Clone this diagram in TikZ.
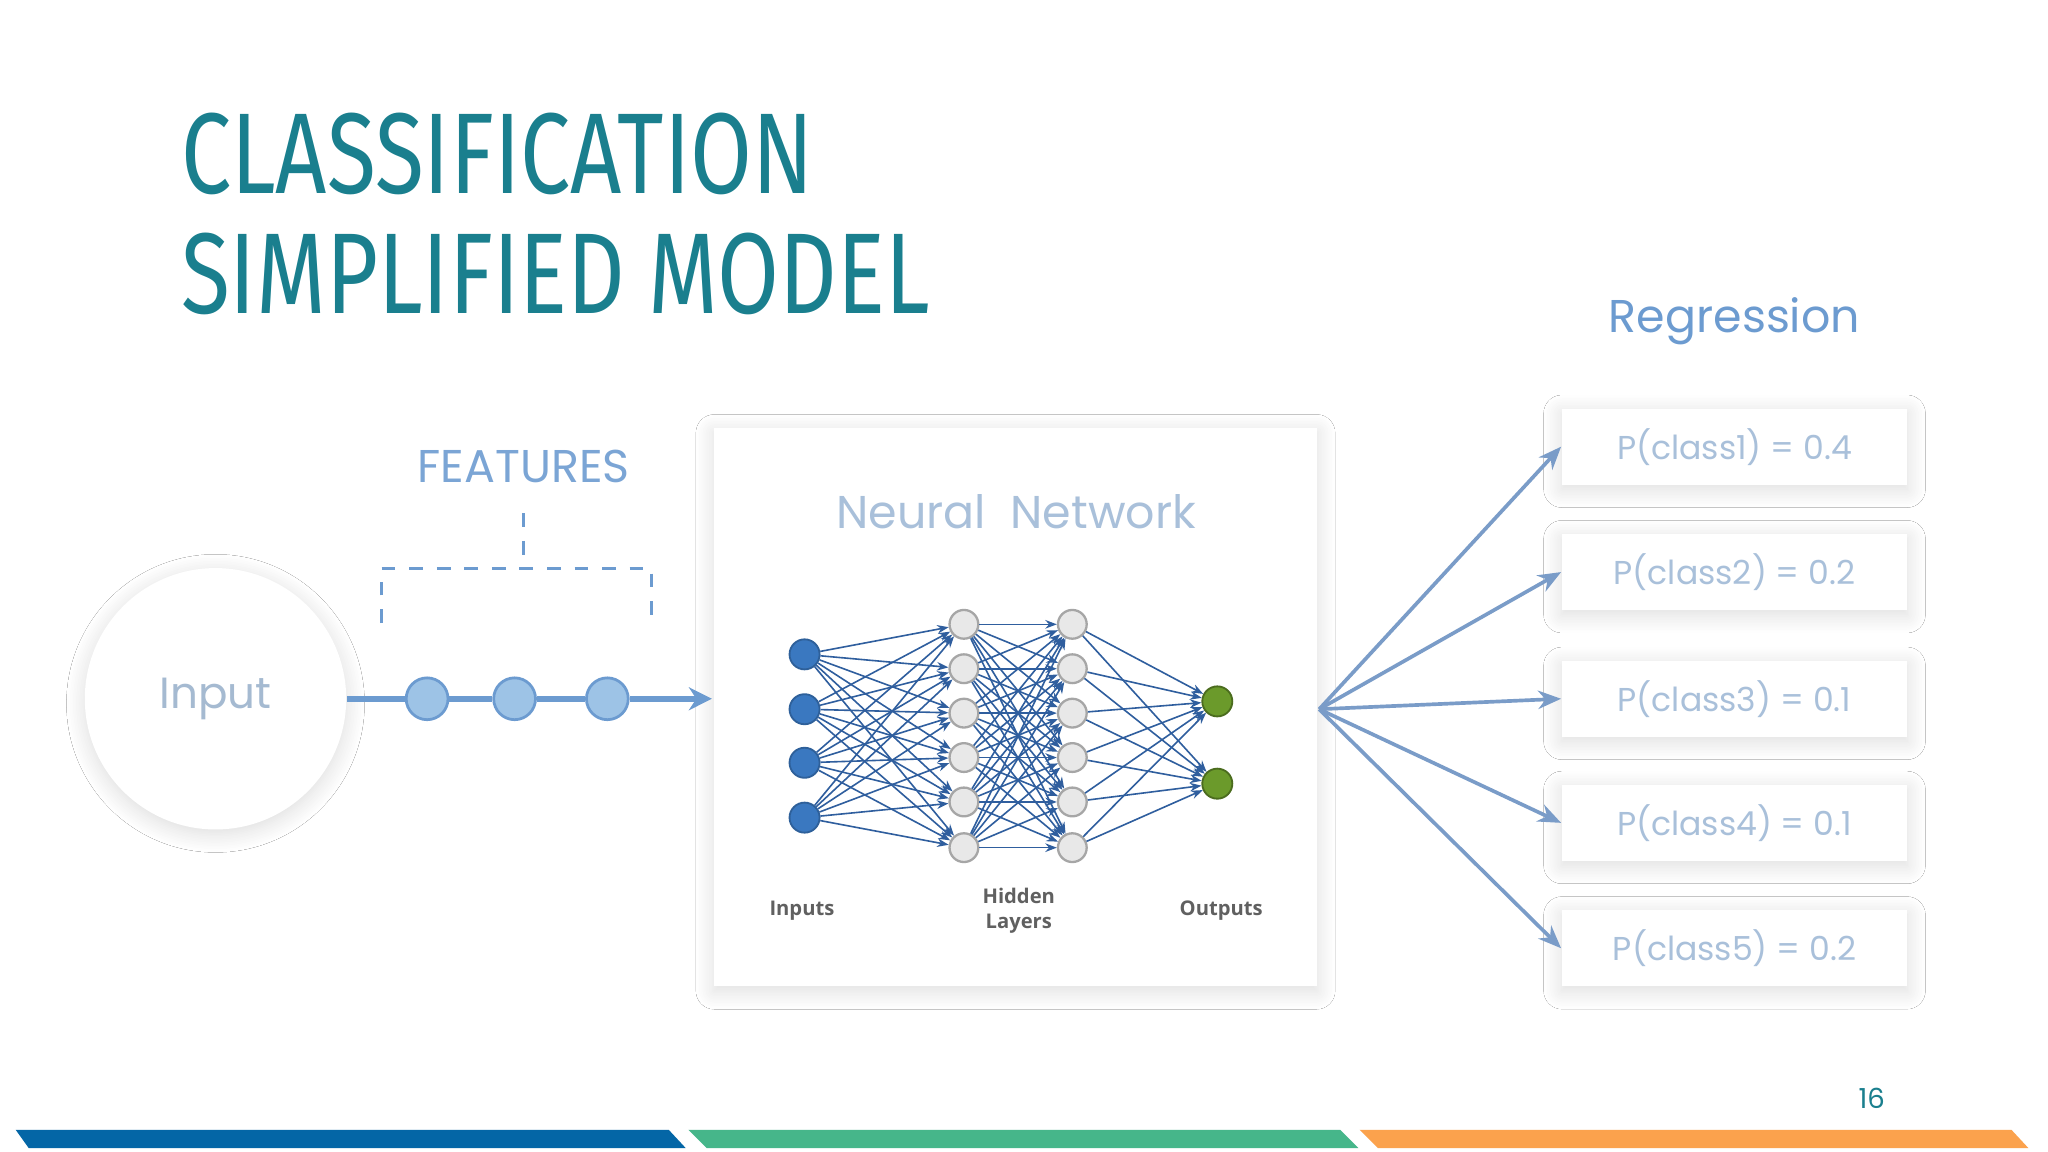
\documentclass[tikz,border=0pt]{standalone}
\usepackage{fontspec}
\setmainfont{Poppins}
\newfontfamily\titlefont[FakeStretch=0.78]{Fira Sans}
\newfontfamily\labfont{Open Sans}
\usetikzlibrary{shadows.blur,arrows.meta}
\definecolor{teal}{HTML}{1A7F8E}
\definecolor{lblue}{HTML}{6C9BD0}
\definecolor{fblue}{HTML}{9DC3E6}
\definecolor{txtb}{HTML}{A9C0DA}
\definecolor{arrb}{HTML}{7A9CC8}
\definecolor{nnedge}{HTML}{2F5E9E}
\definecolor{inb}{HTML}{3A78C0}
\definecolor{outg}{HTML}{6B9A2B}
\definecolor{barb}{HTML}{0466A6}
\definecolor{barg}{HTML}{46B68A}
\definecolor{baro}{HTML}{FBA24D}
\tikzset{
 sh/.style={blur shadow={shadow xshift=0pt,shadow yshift=-1pt,shadow blur steps=12,shadow blur radius=4pt,shadow opacity=14}},
 card/.style={draw=none,fill=white,sh,minimum width=2.64cm,minimum height=0.58cm,text=txtb,font=\fontsize{7.2}{9}\selectfont},
 feat/.style={circle,fill=fblue,draw=lblue,line width=0.6pt,minimum size=0.32cm,inner sep=0},
 inn/.style={circle,fill=inb,draw=inb!80!black,line width=0.4pt,minimum size=0.23cm,inner sep=0},
 hid/.style={circle,fill=gray!18,draw=gray!70,line width=0.5pt,minimum size=0.22cm,inner sep=0},
 outn/.style={circle,fill=outg,draw=outg!70!black,line width=0.4pt,minimum size=0.23cm,inner sep=0},
 nne/.style={draw=nnedge,line width=0.35pt,-{Stealth[length=2.5pt]}},
 bigarr/.style={draw=arrb,line width=0.8pt,-{Stealth[length=5pt,width=4pt]}},
 lab/.style={font=\labfont\bfseries\fontsize{4.4}{5.4}\selectfont,text=gray!75!black,align=center}
}
\begin{document}
\begin{tikzpicture}[x=0.01cm,y=-0.01cm]
\useasboundingbox (0,0) rectangle (1568,882);
\fill[white] (0,0) rectangle (1568,882);
% title
\node[anchor=base west,inner sep=0,text=teal,font=\titlefont\fontsize{25}{28}\selectfont] (t1) at (138,148) {CLASSIFICATION};
\node[anchor=base west,inner sep=0,text=teal,font=\titlefont\fontsize{25}{28}\selectfont] (t2) at (138,240) {SIMPLIFIED MODEL};
% input
\node[circle,fill=white,minimum size=2cm,sh,text=txtb!90!gray,font=\fontsize{9.5}{12}\selectfont] (inp) at (165,535) {Input};
\node[feat] (f1) at (327,535) {};
\node[feat] (f2) at (394,535) {};
\node[feat] (f3) at (465,535) {};
% NN box
\node[fill=white,sh,minimum width=4.61cm,minimum height=4.27cm] (nn) at (777.5,541.5) {};
\coordinate (nnl) at (545,535);
\draw[lblue,line width=1.2pt] (inp) -- (f1) (f1) -- (f2) (f2) -- (f3);
\draw[lblue,line width=1.2pt,-{Stealth[length=5pt,width=5pt]}] (f3) -- (nnl);
% features
\node[text=lblue!90!white,font=\fontsize{10}{12}\selectfont] (feats) at (401,357) {FEATURES};
\coordinate (b0) at (401,393); \coordinate (b1) at (401,435);
\coordinate (bl) at (292,435); \coordinate (br) at (499,435);
\coordinate (bld) at (292,477); \coordinate (brd) at (499,477);
\draw[lblue,dashed,line width=0.6pt] (b0) -- (b1) (bld) -- (bl) -- (br) -- (brd);
\node[text=txtb,font=\fontsize{10}{12}\selectfont] (nnt) at (778,392) {Neural\ \ Network};
% network
\foreach \i/\y in {1/501,2/543,3/584,4/626} \node[inn] (i\i) at (616,\y) {};
\foreach \i/\y in {1/478,2/512,3/546,4/580,5/614,6/649} {\node[hid] (h\i) at (738,\y) {}; \node[hid] (k\i) at (821,\y) {};}
\node[outn] (o1) at (932,537) {};
\node[outn] (o2) at (932,600) {};
\foreach \a in {1,...,4} \foreach \b in {1,...,6} \draw[nne] (i\a) -- (h\b);
\foreach \a in {1,...,6} \foreach \b in {1,...,6} \draw[nne] (h\a) -- (k\b);
\foreach \a in {1,...,6} \foreach \b in {1,2} \draw[nne] (k\a) -- (o\b);
\node[lab] (li) at (614,697) {Inputs};
\node[lab] (lh) at (780,697) {Hidden\\Layers};
\node[lab] (lo) at (935,697) {Outputs};
% outputs
\node[text=lblue,font=\fontsize{10}{12}\selectfont] (reg) at (1328,246) {Regression};
\node[card] (c1) at (1328,342) {P(class1) = 0.4};
\node[card] (c2) at (1328,438) {P(class2) = 0.2};
\node[card] (c3) at (1328,535) {P(class3) = 0.1};
\node[card] (c4) at (1328,630) {P(class4) = 0.1};
\node[card] (c5) at (1328,726) {P(class5) = 0.2};
\coordinate (src) at (1010,543);
\foreach \c in {1,...,5} \draw[bigarr] (src) -- (c\c.west);
% footer
\node[text=teal,font=\fontsize{6}{7}\selectfont] (pg) at (1433,841) {16};
\fill[barb] (12,865) -- (512,865) -- (525,879) -- (22,879) -- cycle;
\fill[barg] (527,865) -- (1026,865) -- (1040,879) -- (541,879) -- cycle;
\fill[baro] (1041,865) -- (1540,865) -- (1553,879) -- (1055,879) -- cycle;
\end{tikzpicture}
\end{document}
